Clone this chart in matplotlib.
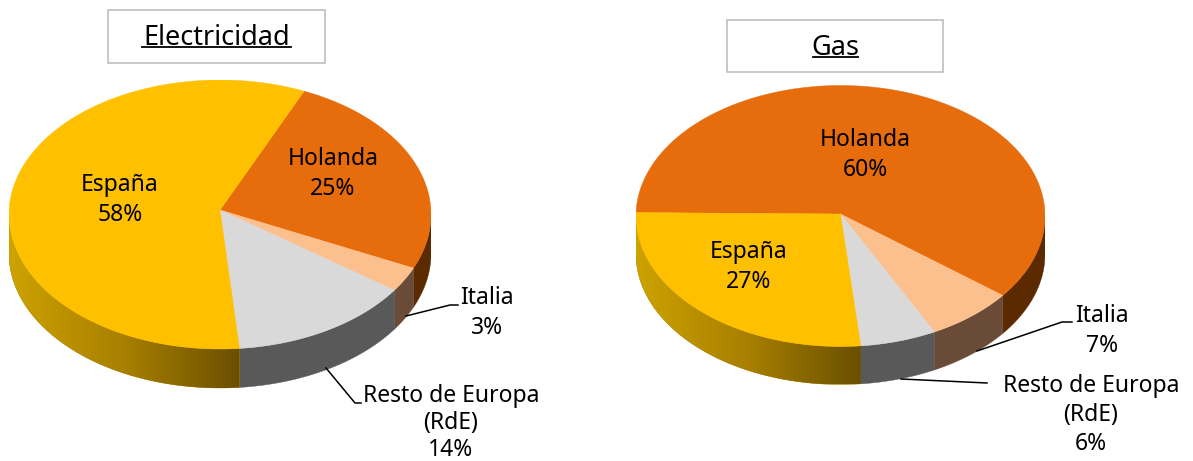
import numpy as np
import matplotlib
matplotlib.use("Agg")
import matplotlib.pyplot as plt
from matplotlib.colors import LinearSegmentedColormap

W, H = 1193, 461

labels_elec = ["Holanda", "Italia", "Resto de Europa\n(RdE)", "España"]
values_elec = [25, 3, 14, 58]
labels_gas = ["Holanda", "Italia", "Resto de Europa\n(RdE)", "España"]
values_gas = [60, 7, 6, 27]
colors = ["#E66C0C", "#FBC08E", "#D9D9D9", "#FFC000"]
side_colors = ["#5B2A00", "#694B38", "#595959", None]
side_grad = LinearSegmentedColormap.from_list("side", ["#CDA200", "#A87F00", "#6A4F00"])

plt.rcParams['font.family'] = ['Noto Sans', 'DejaVu Sans']
fig = plt.figure(figsize=(W / 100, H / 100), dpi=100)

# overlay in pixel coords for text and leaders
over = fig.add_axes([0, 0, 1, 1], zorder=5)
over.set_xlim(0, W)
over.set_ylim(H, 0)
over.axis("off")


def pie3d(values, startangle, cx, cy, rx, ry, depth, apex_y):
    y_bot = cy + ry + depth + 2
    ax = fig.add_axes([(cx - rx) / W, 1 - y_bot / H, 2 * rx / W, (y_bot - (cy - ry)) / H])
    ax.axis("off")
    d = depth / ry
    apex = (cy - apex_y) / ry  # tilt puts the apex a bit above the ellipse centre
    a = startangle
    for v, c, top in zip(values, side_colors, colors):
        a2 = a - v * 3.6
        th = np.linspace(a2, a, 400)
        t = np.radians(th)
        ax.fill(np.r_[0, np.cos(t)], np.r_[apex, np.sin(t)], color=top, lw=0.3, zorder=3)
        # only the front half of the wall shows
        t = t[np.sin(t) <= 0]
        if len(t) > 1:
            x, y = np.cos(t), np.sin(t)
            poly = ax.fill(np.r_[x, x[::-1]], np.r_[y, y[::-1] - d], color=c or "#A87F00", lw=0.3, zorder=1)[0]
            if c is None:
                im = ax.imshow(np.linspace(0, 1, 256)[None, :], cmap=side_grad, aspect="auto",
                               extent=(x.min(), x.max(), -1 - d, 0), zorder=2)
                im.set_clip_path(poly)
        a = a2
    ax.set_xlim(-1, 1)
    ax.set_ylim(-1 - 2 / ry - d, 1)
    return ax


pie3d(values_elec, 66.5, 220, 214.5, 211, 134.5, 39, 210)
pie3d(values_gas, 178.5, 840.5, 216, 204.5, 130.5, 38, 214)


def lab(x, y, s, ls=1.28):
    over.text(x, y, s, ha="center", va="center", fontsize=16.5, color="black", linespacing=ls)


lab(120, 200, f"España\n{values_elec[3]}%")
lab(333, 174, f"Holanda\n{values_elec[0]}%")
lab(487, 313, f"Italia\n{values_elec[1]}%")
lab(451, 423, f"{labels_elec[2]}\n{values_elec[2]}%", ls=1.17)  # tighter, has to fit above the bottom edge
lab(865, 155, f"Holanda\n{values_gas[0]}%")
lab(749, 267, f"España\n{values_gas[3]}%")
lab(1102, 331, f"Italia\n{values_gas[1]}%")
lab(1091, 415, f"{labels_gas[2]}\n{values_gas[2]}%")

# leader lines
over.plot([406, 450, 458], [316, 305, 305], color="black", lw=1.1)
over.plot([326, 355, 361], [368, 403, 403], color="black", lw=1.1)
over.plot([977, 1062, 1072], [351, 322, 322], color="black", lw=1.1)
over.plot([901, 987], [379, 383], color="black", lw=1.1)

# title boxes
for x0, y0, x1, y1, s, ux0, ux1, uy in [(108, 10, 325, 63, "Electricidad", 142, 291, 47),
                                        (727, 20, 943, 72, "Gas", 813, 858, 57)]:
    over.fill([x0, x1, x1, x0], [y0, y0, y1, y1], fc="white", ec="#BFBFBF", lw=1.2)
    over.text((ux0 + ux1) / 2, uy - 2, s, ha="center", va="baseline", fontsize=19.5, color="black")
    over.plot([ux0, ux1], [uy, uy], color="black", lw=1.3)

fig.savefig("out.png", dpi=100)
